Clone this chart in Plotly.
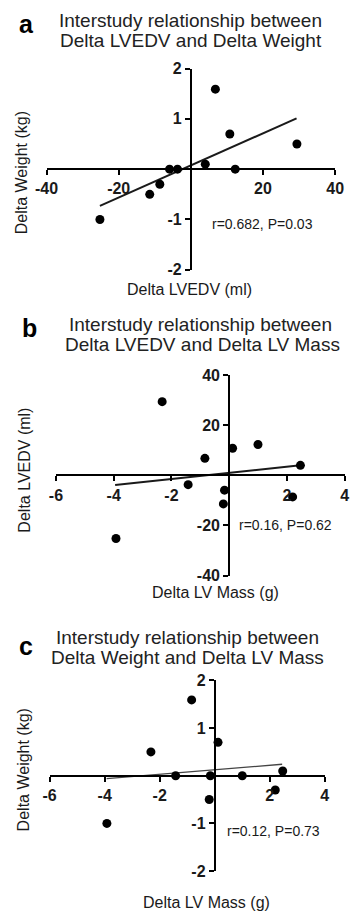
import plotly.graph_objects as go

# ---- data (one entry per subject) ----
delta_lvedv = [-25.2, 29.4, -3.7, 6.8, -11.4, -5.9, 10.8, 12.3, -8.6, 4.0]   # ml
delta_weight = [-1.0, 0.5, 0.0, 1.59, -0.5, 0.0, 0.7, 0.0, -0.3, 0.1]        # kg
delta_mass = [-3.92, -2.32, -1.42, -0.84, -0.2, -0.16, 0.12, 1.0, 2.2, 2.47] # g

# regression lines
fit_a_x = [-25.2, 29.3]
fit_a_y = [-0.73, 1.01]
fit_b_x = [-3.95, 2.47]
fit_b_y = [-3.8, 4.0]
fit_c_x = [-3.93, 2.45]
fit_c_y = [-0.06, 0.24]

# tick labels
ticks_a_x = [-40, -20, 20, 40]
ticks_a_y = [-2, -1, 1, 2]
ticks_b_x = [-6, -4, -2, 2, 4]
ticks_b_y = [-40, -20, 20, 40]
ticks_c_x = [-6, -4, -2, 2, 4]
ticks_c_y = [-2, -1, 1, 2]

titles = [
    ("Interstudy relationship between", "Delta LVEDV and Delta Weight"),
    ("Interstudy relationship between", "Delta LVEDV and Delta LV Mass"),
    ("Interstudy relationship between", "Delta Weight and Delta LV Mass"),
]
stats = ["r=0.682, P=0.03", "r=0.16, P=0.62", "r=0.12, P=0.73"]
xtitles = ["Delta LVEDV (ml)", "Delta LV Mass (g)", "Delta LV Mass (g)"]
ytitles = ["Delta Weight (kg)", "Delta LVEDV (ml)", "Delta Weight (kg)"]
letters = ["a", "b", "c"]

W, H = 358, 921
FONT = "Liberation Sans, Arial, sans-serif"
INK = "#1a1a1a"


def px(x):
    return x / W


def py(y):
    return 1 - y / H


# panel geometry in pixels: (x0, x1, ytop, ybottom)
boxes = [
    (36.7, 343.3, 61.7, 266.7),
    (46.7, 353.3, 374.0, 578.3),
    (40.0, 332.3, 685.0, 879.3),
]
ranges = [
    ([-40, 40], [-2, 2]),
    ([-6, 4], [-40, 40]),
    ([-6, 4], [-2, 2]),
]
series = [
    (delta_lvedv, delta_weight, fit_a_x, fit_a_y, 2.0, INK),
    (delta_mass, delta_lvedv, fit_b_x, fit_b_y, 2.0, INK),
    (delta_mass, delta_weight, fit_c_x, fit_c_y, 1.3, "#444444"),
]
tickset = [(ticks_a_x, ticks_a_y), (ticks_b_x, ticks_b_y), (ticks_c_x, ticks_c_y)]

fig = go.Figure()
layout = dict(
    width=W, height=H,
    margin=dict(l=0, r=0, t=0, b=0),
    paper_bgcolor="white", plot_bgcolor="white",
    showlegend=False,
    font=dict(family=FONT, color=INK),
)
annotations = []

for i in range(3):
    n = "" if i == 0 else str(i + 1)
    xs, ys, fx, fy, lw, lc = series[i]
    fig.add_trace(go.Scatter(x=fx, y=fy, mode="lines",
                             line=dict(color=lc, width=lw),
                             xaxis="x" + n, yaxis="y" + n, hoverinfo="skip"))
    fig.add_trace(go.Scatter(x=xs, y=ys, mode="markers",
                             marker=dict(color="black", size=9),
                             xaxis="x" + n, yaxis="y" + n))
    x0, x1, yt, yb = boxes[i]
    xr, yr = ranges[i]
    xd = [px(x0), px(x1)]
    yd = [py(yb), py(yt)]
    # paper position of data zero
    xzero = xd[0] + (0 - xr[0]) / (xr[1] - xr[0]) * (xd[1] - xd[0])
    yzero = yd[0] + (0 - yr[0]) / (yr[1] - yr[0]) * (yd[1] - yd[0])
    tx, ty = tickset[i]
    common = dict(showgrid=False, zeroline=False, showline=True,
                  linecolor="black", linewidth=2, ticks="outside",
                  ticklen=5, tickwidth=2, tickcolor="black",
                  tickfont=dict(family=FONT, size=16, color=INK),
                  ticklabeloverflow="allow",
                  anchor="free", fixedrange=True)
    layout["xaxis" + n] = dict(common, domain=xd, range=xr, tickvals=tx,
                               ticktext=["<b>%s</b>" % v for v in tx], position=yzero)
    layout["yaxis" + n] = dict(common, domain=yd, range=yr, tickvals=ty,
                               ticktext=["<b>%s</b>" % v for v in ty], position=xzero)

# text placements (pixels)
title_pos = [((189.5, 13.0), (190.0, 33.0)),
             ((200.0, 322.0), (202.0, 343.0)),
             ((186.0, 641.0), (186.0, 661.5))]
letter_pos = [(15.0, 16.0), (18.3, 326.0), (14.5, 650.5)]
stat_pos = [(266.0, 220.0), (290.8, 526.7), (277.5, 838.3)]
xtitle_pos = [(188.5, 286.5), (216.0, 595.0), (206.7, 911.5)]
ytitle_pos = [(10.5, 167.5), (13.3, 470.8), (11.7, 776.7)]

for i in range(3):
    for j in range(2):
        x, y = title_pos[i][j]
        annotations.append(dict(text=titles[i][j], x=px(x), y=py(y), xref="paper", yref="paper",
                                xanchor="center", yanchor="middle", showarrow=False,
                                font=dict(family=FONT, size=19, color="#222222")))
    x, y = letter_pos[i]
    annotations.append(dict(text="<b>%s</b>" % letters[i], x=px(x), y=py(y), xref="paper", yref="paper",
                            xanchor="center", yanchor="middle", showarrow=False,
                            font=dict(family=FONT, size=25, color="black")))
    x, y = stat_pos[i]
    annotations.append(dict(text=stats[i], x=px(x), y=py(y), xref="paper", yref="paper",
                            xanchor="center", yanchor="middle", showarrow=False,
                            font=dict(family=FONT, size=14, color=INK)))
    x, y = xtitle_pos[i]
    annotations.append(dict(text=xtitles[i], x=px(x), y=py(y), xref="paper", yref="paper",
                            xanchor="center", yanchor="middle", showarrow=False,
                            font=dict(family=FONT, size=16, color=INK)))
    x, y = ytitle_pos[i]
    annotations.append(dict(text=ytitles[i], x=px(x), y=py(y), xref="paper", yref="paper",
                            xanchor="center", yanchor="middle", showarrow=False, textangle=-90,
                            font=dict(family=FONT, size=16, color=INK)))

layout["annotations"] = annotations
fig.update_layout(**layout)
fig.write_html("out.html", config={"displayModeBar": False, "staticPlot": True})

# remove the browser's default page margin so the figure sits at (0, 0)
with open("out.html", encoding="utf-8") as f:
    html = f.read()
html = html.replace("<body>", '<body style="margin:0;padding:0;overflow:hidden">', 1)
html = html.replace("<head>", "<head><style>html,body{margin:0;padding:0;overflow:hidden}</style>", 1)
with open("out.html", "w", encoding="utf-8") as f:
    f.write(html)
